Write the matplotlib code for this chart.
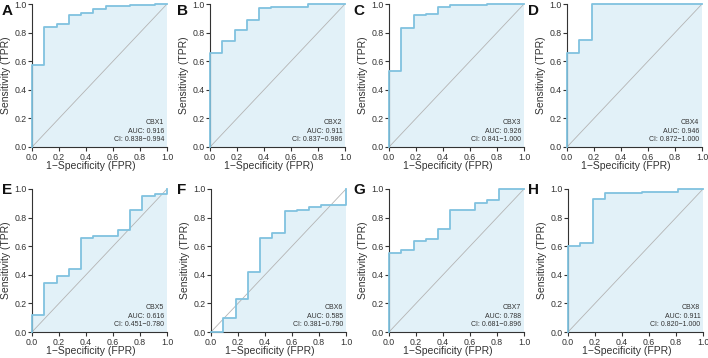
import matplotlib
matplotlib.use("Agg")
import matplotlib.pyplot as plt

plt.rcParams['font.family'] = ['Liberation Sans', 'DejaVu Sans']

letters = ["A", "B", "C", "D", "E", "F", "G", "H"]
genes = ["CBX1", "CBX2", "CBX3", "CBX4", "CBX5", "CBX6", "CBX7", "CBX8"]
auc = ["0.916", "0.911", "0.926", "0.946", "0.616", "0.585", "0.788", "0.911"]
ci = ["0.838\u22120.994", "0.837\u22120.986", "0.841\u22121.000", "0.872\u22121.000",
      "0.451\u22120.780", "0.381\u22120.790", "0.681\u22120.896", "0.820\u22121.000"]

fpr_A = [0, 0, 0.091, 0.182, 0.273, 0.364, 0.455, 0.545, 0.727, 0.909, 1.0]
tpr_A = [0, 0.57, 0.84, 0.86, 0.92, 0.94, 0.965, 0.985, 0.99, 1.0, 1.0]
fpr_B = [0, 0, 0.091, 0.182, 0.273, 0.364, 0.455, 0.727, 1.0]
tpr_B = [0, 0.66, 0.74, 0.82, 0.89, 0.97, 0.98, 1.0, 1.0]
fpr_C = [0, 0, 0.091, 0.182, 0.273, 0.364, 0.455, 0.727, 1.0]
tpr_C = [0, 0.53, 0.83, 0.925, 0.93, 0.98, 0.99, 1.0, 1.0]
fpr_D = [0, 0, 0.091, 0.182, 1.0]
tpr_D = [0, 0.655, 0.745, 1.0, 1.0]
fpr_E = [0, 0, 0.091, 0.182, 0.273, 0.364, 0.455, 0.636, 0.727, 0.818, 0.909, 1.0]
tpr_E = [0, 0.12, 0.34, 0.395, 0.44, 0.655, 0.67, 0.715, 0.85, 0.95, 0.965, 1.0]
fpr_F = [0, 0.091, 0.182, 0.273, 0.364, 0.455, 0.545, 0.636, 0.727, 0.818, 1.0]
tpr_F = [0, 0.10, 0.23, 0.42, 0.655, 0.69, 0.845, 0.855, 0.875, 0.885, 1.0]
fpr_G = [0, 0, 0.091, 0.182, 0.273, 0.364, 0.455, 0.545, 0.636, 0.727, 0.818, 1.0]
tpr_G = [0, 0.555, 0.57, 0.635, 0.65, 0.72, 0.85, 0.855, 0.90, 0.925, 1.0, 1.0]
fpr_H = [0, 0, 0.091, 0.182, 0.273, 0.364, 0.545, 0.818, 1.0]
tpr_H = [0, 0.60, 0.62, 0.93, 0.97, 0.975, 0.98, 1.0, 1.0]

fprs = [fpr_A, fpr_B, fpr_C, fpr_D, fpr_E, fpr_F, fpr_G, fpr_H]
tprs = [tpr_A, tpr_B, tpr_C, tpr_D, tpr_E, tpr_F, tpr_G, tpr_H]

W, H = 708, 358
fig = plt.figure(figsize=(W / 100, H / 100), dpi=100)

lefts = [32, 210, 389, 567, 32, 211, 389, 568]
tops = [4, 4, 4, 4, 189, 189, 189, 189]
aw, ah = 135, 143
letter_x = [2, 177, 353, 528, 2, 177, 353, 528]
letter_y = [4, 4, 4, 4, 183, 183, 183, 183]

line_c = '#80c2df'
fill_c = '#e2f1f8'
dark = '#333333'

for i in range(8):
    ax = fig.add_axes([lefts[i] / W, (H - tops[i] - ah) / H, aw / W, ah / H])
    ax.fill_between(fprs[i], tprs[i], 0, step='post', color=fill_c, lw=0, zorder=1)
    ax.plot([0, 1], [0, 1], color='#b4b4b4', lw=0.6, zorder=2)
    ax.step(fprs[i], tprs[i], where='post', color=line_c, lw=1.3, zorder=3, clip_on=False)
    ax.set_xlim(0, 1)
    ax.set_ylim(0, 1)
    ticks = [0, 0.2, 0.4, 0.6, 0.8, 1.0]
    ax.set_xticks(ticks)
    ax.set_yticks(ticks)
    ax.set_xticklabels([f"{t:.1f}" for t in ticks])
    ax.set_yticklabels([f"{t:.1f}" for t in ticks])
    for s in ['top', 'right']:
        ax.spines[s].set_visible(False)
    for s in ['left', 'bottom']:
        ax.spines[s].set_color(dark)
        ax.spines[s].set_linewidth(0.8)
    ax.tick_params(axis='both', length=3, width=0.8, color=dark, labelsize=6.3,
                   labelcolor=dark, pad=1)
    ax.set_xlabel("1\u2212Specificity (FPR)", fontsize=7.5, color=dark)
    ax.xaxis.set_label_coords(0.437, -0.1)
    ax.set_ylabel("Sensitivity (TPR)", fontsize=7.5, color=dark, labelpad=2)
    ax.text(0.98, 0.168, genes[i], transform=ax.transAxes, ha='right', va='center',
            fontsize=5.0, color=dark)
    ax.text(0.98, 0.105, f"AUC: {auc[i]}", transform=ax.transAxes, ha='right', va='center',
            fontsize=5.0, color=dark)
    ax.text(0.98, 0.049, f"CI: {ci[i]}", transform=ax.transAxes, ha='right', va='center',
            fontsize=5.0, color=dark)
    fig.text(letter_x[i] / W, 1 - letter_y[i] / H, letters[i], fontsize=11,
             fontweight='bold', ha='left', va='top', color='#111111')

fig.savefig("out.png", dpi=100)
